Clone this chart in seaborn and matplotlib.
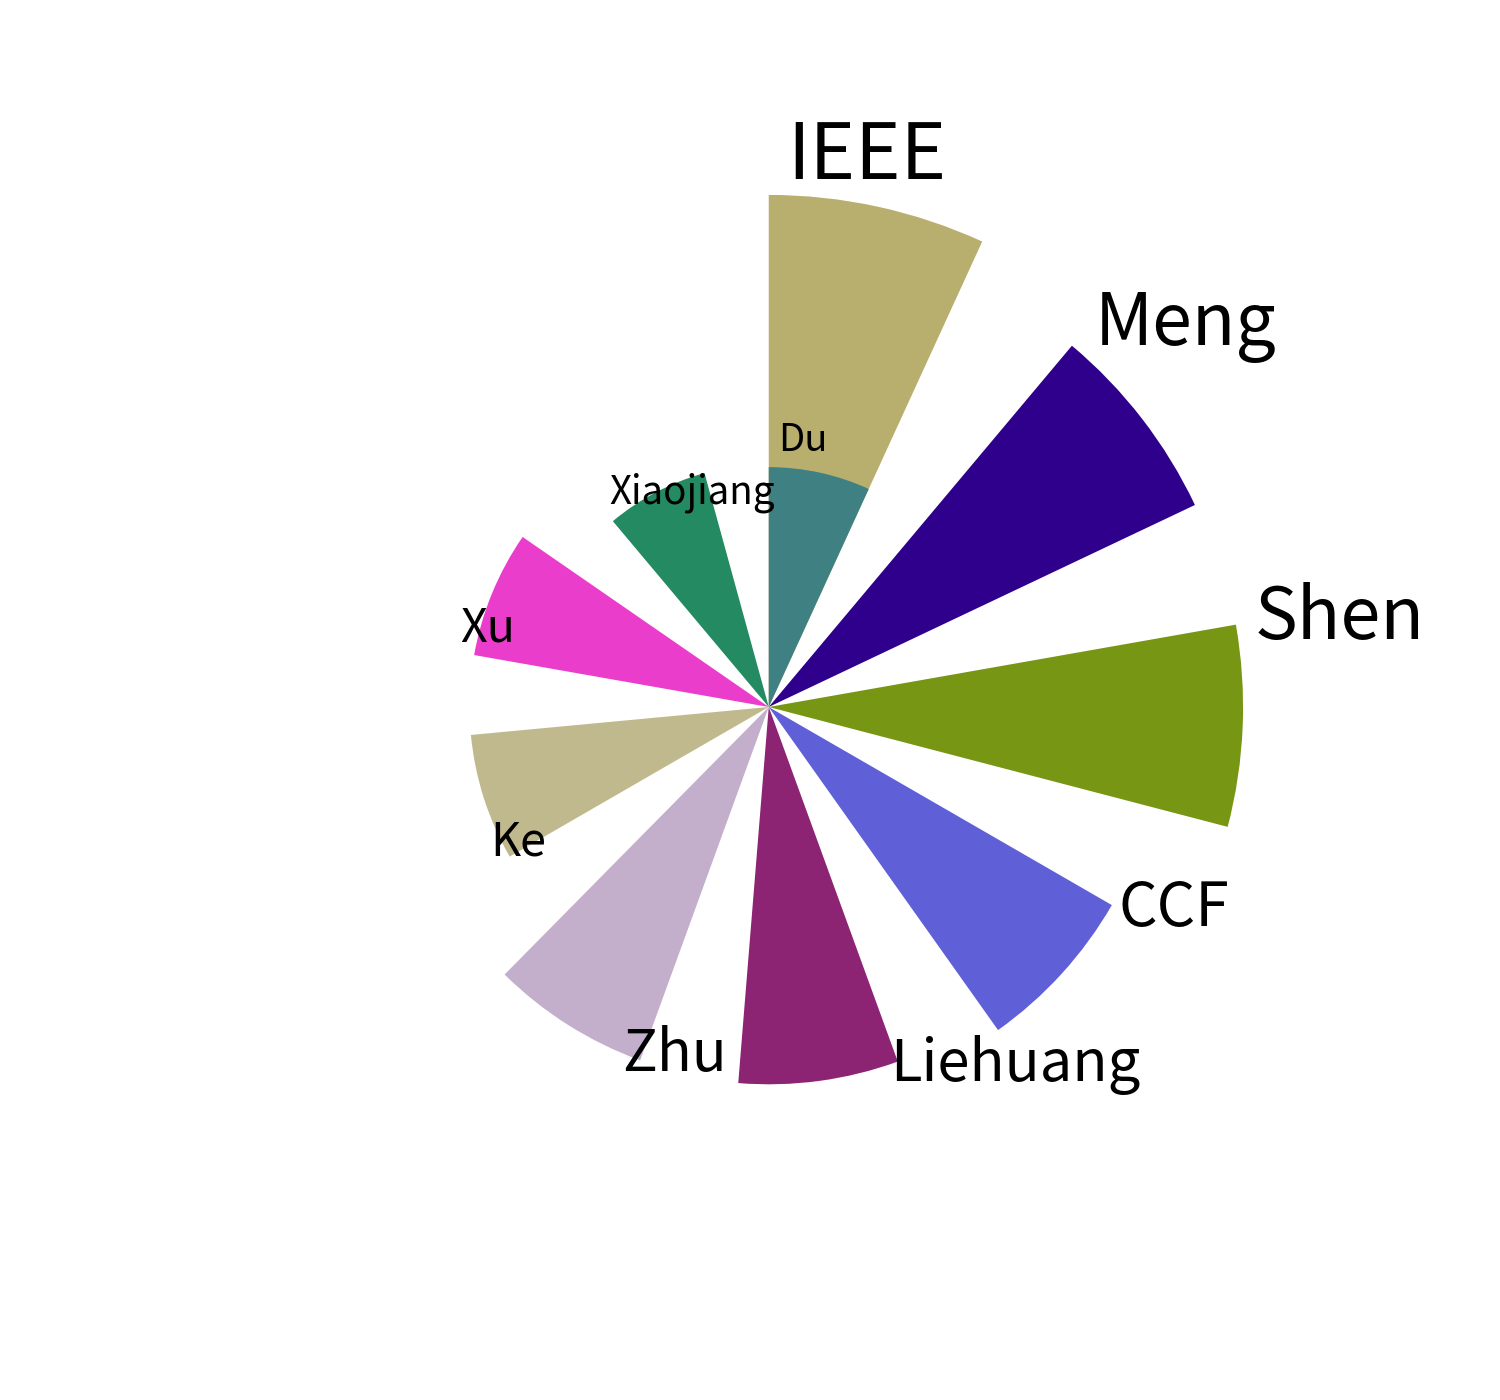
import numpy as np
import matplotlib
matplotlib.use('Agg')
import matplotlib.pyplot as plt
import seaborn as sns

# categories and values (clockwise from north)
names = ['IEEE', 'Meng', 'Shen', 'CCF', 'Liehuang', 'Zhu', 'Ke', 'Xu', 'Xiaojiang', 'Du']
values = [19, 17.5, 17.6, 14.7, 14, 13.95, 11.1, 11.1, 9.0, 8.9]
colors = ['#b8ae6e', '#2e008c', '#779614', '#5f5fd8', '#8c2373',
          '#c3aecb', '#c1b98e', '#eb3dcb', '#238a62', '#3f8183']

sns.set_theme(style='white')
plt.rcParams['font.family'] = ['Noto Sans CJK SC', 'DejaVu Sans']

theta = np.linspace(0, 2 * np.pi, len(names))

fig = plt.figure(figsize=(15, 14), dpi=100)
ax = fig.add_subplot(111, projection='polar')
ax.set_theta_zero_location('N')
ax.set_theta_direction(-1)

ax.bar(theta, values, width=0.43, align='edge', color=colors, linewidth=0)

for t, v, n in zip(theta, values, names):
    ax.text(t + 0.035, v + 0.6, n, fontsize=2.8 * v + 2.5,
            ha='left', va='baseline', color='black')

ax.set_ylim(0, 20)
ax.axis('off')

plt.savefig('out.png', dpi=100)
